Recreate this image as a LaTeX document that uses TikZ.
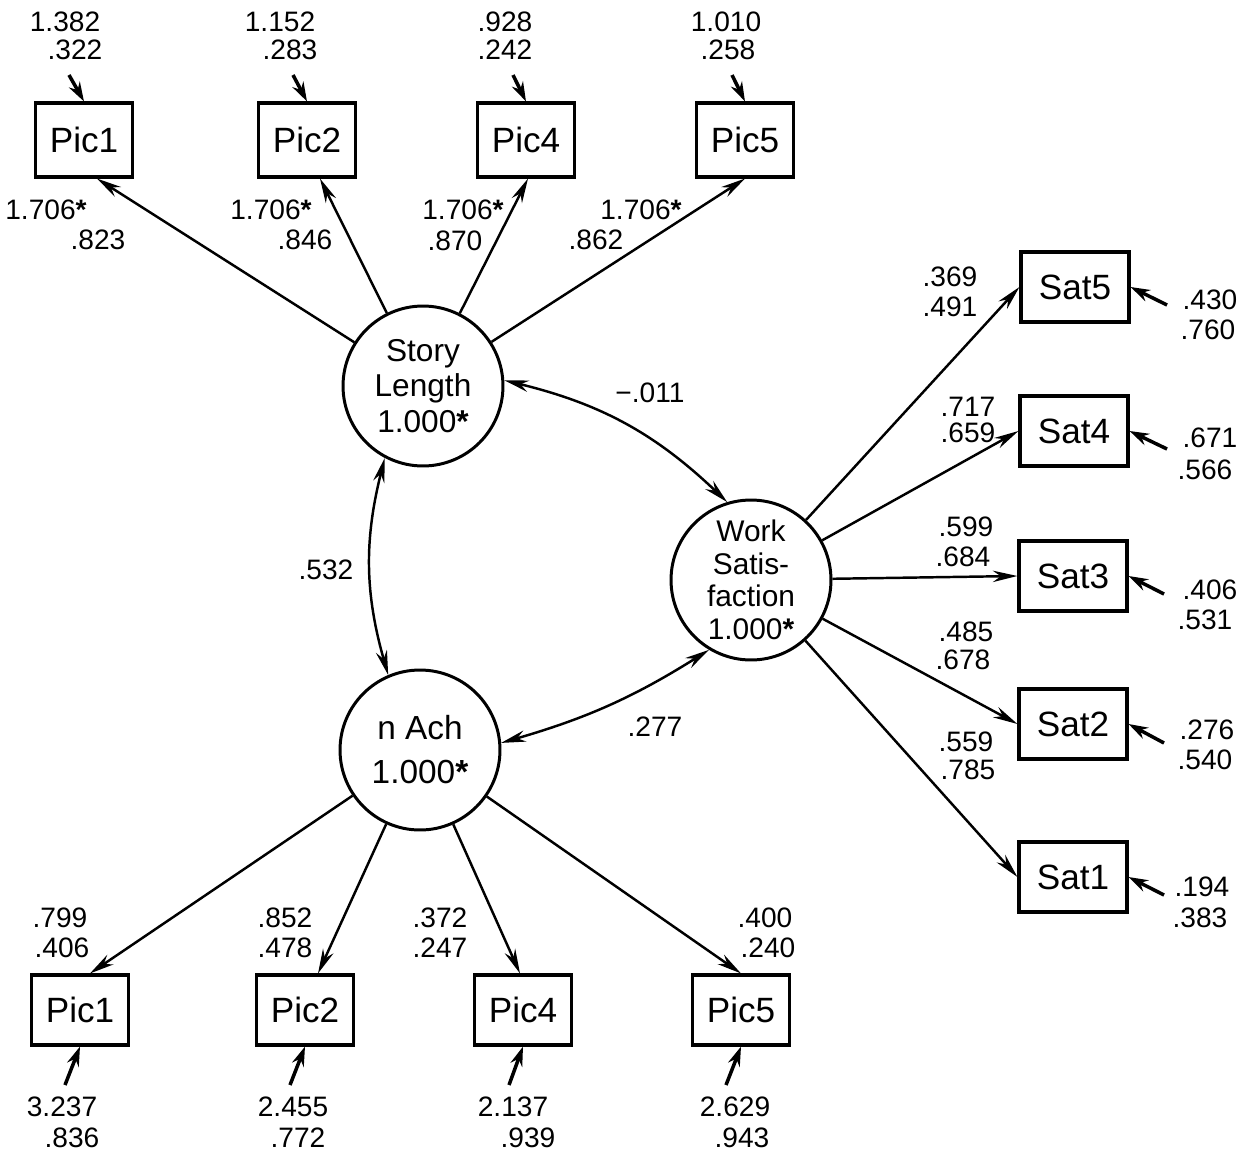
\documentclass[tikz,border=0pt]{standalone}
\usepackage{fontspec}
\setmainfont{Liberation Sans}
\usetikzlibrary{arrows.meta}
\newcommand\starmk{{\bfseries *}}
\begin{document}
\begin{tikzpicture}[x=0.02cm,y=-0.02cm,
 obs/.style={draw, line width=1.8pt, minimum width=1.95cm, minimum height=1.44cm, inner sep=0pt, font=\fontsize{20}{22}\selectfont},
 sat/.style={obs, minimum width=2.16cm, minimum height=1.4cm},
 lat/.style={draw, circle, line width=1.7pt, minimum size=3.2cm, inner sep=0pt, align=center},
 num/.style={inner sep=0pt, font=\fontsize{16}{17}\selectfont},
 ld/.style={line width=1.4pt, -{Stealth[length=14pt,width=6.5pt]}},
 er/.style={line width=2pt, -{Stealth[length=11pt,width=7pt]}},
 cv/.style={line width=1.4pt, {Stealth[length=14pt,width=6.5pt]}-{Stealth[length=14pt,width=6.5pt]}}]
\fill[white] (0,0) rectangle (1254,1153);
\useasboundingbox (0,0) rectangle (1254,1153);

% latent variables
\node[lat, font=\fontsize{18}{20}\selectfont] (sl) at (423,386) {Story\\Length\\1.000\starmk};
\node[lat, font=\fontsize{17}{18.5}\selectfont] (ws) at (751,580) {Work\\Satis-\\faction\\1.000\starmk};
\node[lat, font=\fontsize{19}{25}\selectfont] (na) at (420,750) {n Ach\\1.000\starmk};

% top indicators
\node[obs, minimum height=1.48cm] (t1) at (84,140) {Pic1};
\node[obs, minimum height=1.48cm] (t2) at (307,140) {Pic2};
\node[obs, minimum height=1.48cm] (t4) at (526,140) {Pic4};
\node[obs, minimum height=1.48cm] (t5) at (745,140) {Pic5};

% sat indicators
\node[sat] (s5) at (1075,287) {Sat5};
\node[sat] (s4) at (1074,431) {Sat4};
\node[sat] (s3) at (1073,576) {Sat3};
\node[sat] (s2) at (1073,724) {Sat2};
\node[sat] (s1) at (1073,877) {Sat1};

% bottom indicators
\node[obs, minimum height=1.4cm] (b1) at (80,1010) {Pic1};
\node[obs, minimum height=1.4cm] (b2) at (305,1010) {Pic2};
\node[obs, minimum height=1.4cm] (b4) at (523,1010) {Pic4};
\node[obs, minimum height=1.4cm] (b5) at (741,1010) {Pic5};

% loadings
\draw[ld] (sl) -- ([xshift=0.26cm]t1.south);
\draw[ld] (sl) -- ([xshift=0.26cm]t2.south);
\draw[ld] (sl) -- ([xshift=0.04cm]t4.south);
\draw[ld] (sl) -- (t5.south);
\draw[ld] (na) -- ([xshift=0.2cm]b1.north);
\draw[ld] (na) -- ([xshift=0.26cm]b2.north);
\draw[ld] (na) -- ([xshift=-0.06cm]b4.north);
\draw[ld] (na) -- (b5.north);
\draw[ld] (ws) -- (s5.west);
\draw[ld] (ws) -- (s4.west);
\draw[ld] (ws) -- (s3.west);
\draw[ld] (ws) -- (s2.west);
\draw[ld] (ws) -- (s1.west);

% covariances
\draw[cv] (sl.4) to[bend left=15] (ws.107);
\draw[cv] (sl.242) to[bend right=15] (na.113);
\draw[cv] (na.5) to[bend right=8] (ws.239);

% error arrows
\coordinate (et1) at (69,75);  \draw[er] (et1) -- (t1.north);
\coordinate (et2) at (293,75); \draw[er] (et2) -- (t2.north);
\coordinate (et4) at (513,75); \draw[er] (et4) -- (t4.north);
\coordinate (et5) at (732,75); \draw[er] (et5) -- (t5.north);
\coordinate (es5) at (1167,305); \draw[er] (es5) -- (s5.east);
\coordinate (es4) at (1167,449); \draw[er] (es4) -- (s4.east);
\coordinate (es3) at (1164,594); \draw[er] (es3) -- (s3.east);
\coordinate (es2) at (1164,743); \draw[er] (es2) -- (s2.east);
\coordinate (es1) at (1164,895); \draw[er] (es1) -- (s1.east);
\coordinate (eb1) at (65,1085);  \draw[er] (eb1) -- (b1.south);
\coordinate (eb2) at (290,1085); \draw[er] (eb2) -- (b2.south);
\coordinate (eb4) at (509,1085); \draw[er] (eb4) -- (b4.south);
\coordinate (eb5) at (726,1085); \draw[er] (eb5) -- (b5.south);

% top error labels
\node[num] (l1a) at (65,22) {1.382};  \node[num] (l1b) at (75,50) {.322};
\node[num] (l2a) at (280,22) {1.152}; \node[num] (l2b) at (290,50) {.283};
\node[num] (l4a) at (505,22) {.928};  \node[num] (l4b) at (505,50) {.242};
\node[num] (l5a) at (726,22) {1.010}; \node[num] (l5b) at (728,50) {.258};

% top loading labels
\node[num] (m1a) at (46,210) {1.706\starmk}; \node[num] (m1b) at (98,240) {.823};
\node[num] (m2a) at (271,210) {1.706\starmk}; \node[num] (m2b) at (305,240) {.846};
\node[num] (m4a) at (463,210) {1.706\starmk}; \node[num] (m4b) at (455,241) {.870};
\node[num] (m5a) at (641,210) {1.706\starmk}; \node[num] (m5b) at (596,240) {.862};

% covariance labels
\node[num] (c1) at (650,393) {−.011};
\node[num] (c2) at (326,570) {.532};
\node[num] (c3) at (655,727) {.277};

% sat loading labels
\node[num] (p5a) at (950,277) {.369}; \node[num] (p5b) at (950,307) {.491};
\node[num] (p4a) at (968,407) {.717}; \node[num] (p4b) at (968,433) {.659};
\node[num] (p3a) at (966,527) {.599}; \node[num] (p3b) at (963,557) {.684};
\node[num] (p2a) at (966,632) {.485}; \node[num] (p2b) at (963,660) {.678};
\node[num] (p1a) at (966,742) {.559}; \node[num] (p1b) at (968,770) {.785};

% sat error labels
\node[num] (q5a) at (1210,300) {.430}; \node[num] (q5b) at (1208,330) {.760};
\node[num] (q4a) at (1210,438) {.671}; \node[num] (q4b) at (1205,470) {.566};
\node[num] (q3a) at (1210,590) {.406}; \node[num] (q3b) at (1205,620) {.531};
\node[num] (q2a) at (1207,730) {.276}; \node[num] (q2b) at (1205,760) {.540};
\node[num] (q1a) at (1202,887) {.194}; \node[num] (q1b) at (1200,918) {.383};

% bottom loading labels
\node[num] (r1a) at (60,918) {.799};  \node[num] (r1b) at (62,948) {.406};
\node[num] (r2a) at (285,918) {.852}; \node[num] (r2b) at (285,948) {.478};
\node[num] (r4a) at (440,918) {.372}; \node[num] (r4b) at (440,948) {.247};
\node[num] (r5a) at (765,918) {.400}; \node[num] (r5b) at (768,948) {.240};

% bottom error labels
\node[num] (u1a) at (62,1107) {3.237};  \node[num] (u1b) at (72,1138) {.836};
\node[num] (u2a) at (293,1107) {2.455}; \node[num] (u2b) at (298,1138) {.772};
\node[num] (u4a) at (513,1107) {2.137}; \node[num] (u4b) at (528,1138) {.939};
\node[num] (u5a) at (735,1107) {2.629}; \node[num] (u5b) at (742,1138) {.943};
\end{tikzpicture}
\end{document}
